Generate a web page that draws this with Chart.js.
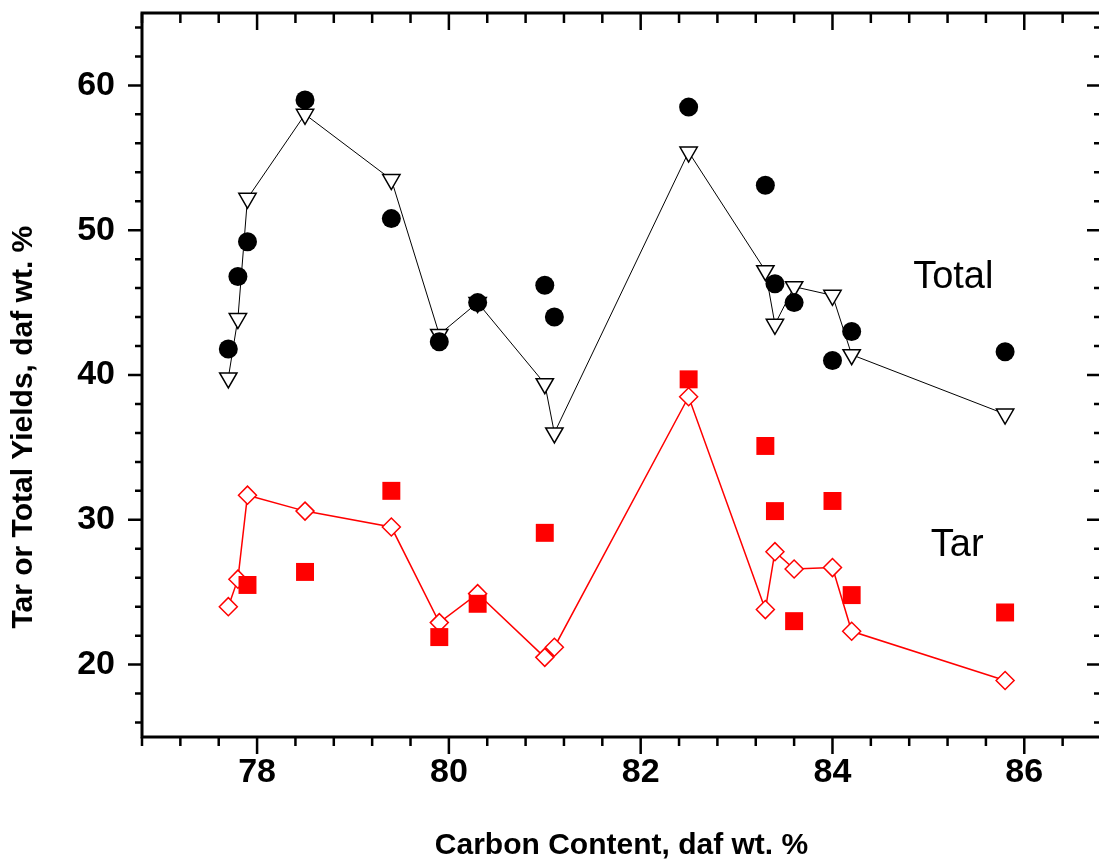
<!DOCTYPE html>
<html>
<head>
<meta charset="utf-8">
<script src="https://cdn.jsdelivr.net/npm/chart.js@4.4.1/dist/chart.umd.min.js"></script>
<style>
  html, body { margin: 0; padding: 0; background: #fff; overflow: hidden; }
  canvas { position: absolute; left: 0; top: 0; }
</style>
</head>
<body>
<canvas id="chart" width="1105" height="861"></canvas>
<script>
// carbon content (daf wt. %) of each coal
const carbon = [77.7, 77.8, 77.9, 78.5, 79.4, 79.9, 80.3, 81.0, 81.1, 82.5, 83.3, 83.4, 83.6, 84.0, 84.2, 85.8];
// measured yields
const totalMeasured = [41.8, 46.8, 49.2, 59.0, 50.8, 42.3, 45.0, 46.2, 44.0, 58.5, 53.1, 46.3, 45.0, 41.0, 43.0, 41.6];
const tarMeasured = [null, null, 25.5, 26.4, 32.0, 21.9, 24.2, 29.1, null, 39.7, 35.1, 30.6, 23.0, 31.3, 24.8, 23.6];
// predicted yields
const totalPredicted = [39.8, 43.9, 52.2, 58.0, 53.5, 42.8, 45.0, 39.4, 36.0, 55.4, 47.2, 43.5, 46.1, 45.5, 41.4, 37.3];
const tarPredicted = [24.0, 25.9, 31.7, 30.6, 29.5, 22.9, 24.9, 20.5, 21.2, 38.5, 23.8, 27.8, 26.6, 26.7, 22.3, 18.9];

const xTicks = [78, 80, 82, 84, 86];
const yTicks = [20, 30, 40, 50, 60];

const FONT = "'Liberation Sans', Arial, sans-serif";

function pairs(ys) {
    return carbon.map((c, i) => ({ x: c, y: ys[i] })).filter(p => p.y !== null);
}

function noPadding(s) {
    s.paddingTop = 0; s.paddingBottom = 0; s.paddingLeft = 0; s.paddingRight = 0;
}

// frame, tick marks, y title and the two curve labels
const framePlugin = {
    id: 'frame',
    afterDraw(chart) {
        const { ctx, chartArea: a, scales: { x, y } } = chart;
        ctx.save();
        ctx.strokeStyle = '#000';
        ctx.lineWidth = 2.5;
        ctx.beginPath();
        for (let i = 0; i <= 25; i++) {
            const v = x.min + i * 0.4;
            const px = x.getPixelForValue(v);
            const major = Math.abs(v - Math.round(v / 2) * 2) < 1e-6;
            ctx.moveTo(px, a.bottom); ctx.lineTo(px, a.bottom + (major ? 17 : 9));
            ctx.moveTo(px, a.top); ctx.lineTo(px, a.top + (major ? 17 : 10));
        }
        for (let v = 16; v <= 64; v += 2) {
            const py = y.getPixelForValue(v);
            const major = v % 10 === 0;
            ctx.moveTo(a.left, py); ctx.lineTo(a.left - (major ? 14 : 7), py);
            ctx.moveTo(a.right, py); ctx.lineTo(a.right - (major ? 14 : 7), py);
        }
        ctx.stroke();
        ctx.lineWidth = 3;
        ctx.strokeRect(a.left, a.top, a.right - a.left, a.bottom - a.top);

        ctx.fillStyle = '#000';
        ctx.textAlign = 'center';
        ctx.textBaseline = 'middle';
        ctx.font = '38px ' + FONT;
        ctx.fillText('Total', x.getPixelForValue(85.26), y.getPixelForValue(46.7));
        ctx.fillText('Tar', x.getPixelForValue(85.3), y.getPixelForValue(28.2));

        ctx.translate(24, y.getPixelForValue(36.4));
        ctx.rotate(-Math.PI / 2);
        ctx.font = 'bold 30px ' + FONT;
        ctx.fillText('Tar or Total Yields, daf wt. %', 0, 0);
        ctx.restore();
    }
};

new Chart(document.getElementById('chart'), {
    type: 'scatter',
    data: {
        datasets: [{
            label: 'Total (measured)',
            data: pairs(totalMeasured),
            pointStyle: 'circle',
            pointRadius: 9.5,
            pointBorderWidth: 0,
            backgroundColor: '#000',
            borderColor: '#000'
        }, {
            label: 'Tar (measured)',
            data: pairs(tarMeasured),
            pointStyle: 'rect',
            pointRadius: 12.7,
            pointBorderWidth: 0,
            backgroundColor: '#ff0000',
            borderColor: '#ff0000'
        }, {
            label: 'Total (predicted)',
            data: pairs(totalPredicted),
            showLine: true,
            borderColor: '#000',
            borderWidth: 1,
            pointStyle: 'triangle',
            pointRotation: 180,
            pointRadius: 10,
            pointBorderWidth: 1.5,
            pointBorderColor: '#000',
            pointBackgroundColor: '#fff'
        }, {
            label: 'Tar (predicted)',
            data: pairs(tarPredicted),
            showLine: true,
            borderColor: '#ff0000',
            borderWidth: 1.5,
            pointStyle: 'rectRot',
            pointRadius: 9,
            pointBorderWidth: 1.5,
            pointBorderColor: '#ff0000',
            pointBackgroundColor: '#fff'
        }]
    },
    options: {
        responsive: false,
        animation: false,
        events: [],
        layout: { autoPadding: false, padding: { left: 0, right: 4, top: 13, bottom: 0 } },
        plugins: { legend: { display: false }, tooltip: { enabled: false } },
        scales: {
            x: {
                type: 'linear',
                min: 76.8,
                max: 86.8,
                afterBuildTicks: s => { s.ticks = xTicks.map(v => ({ value: v })); },
                afterFit: s => { s.height = 124; noPadding(s); },
                grid: { display: false, drawTicks: false },
                border: { display: false },
                ticks: { padding: 15, color: '#000', font: { family: FONT, size: 34, weight: 'bold' } },
                title: {
                    display: true,
                    text: 'Carbon Content, daf wt. %',
                    color: '#000',
                    padding: 0,
                    font: { family: FONT, size: 30, weight: 'bold', lineHeight: 1 }
                }
            },
            y: {
                type: 'linear',
                min: 15,
                max: 65,
                afterBuildTicks: s => { s.ticks = yTicks.map(v => ({ value: v })); },
                afterFit: s => { s.width = 142; noPadding(s); },
                grid: { display: false, drawTicks: false },
                border: { display: false },
                ticks: { padding: 27, color: '#000', font: { family: FONT, size: 34, weight: 'bold' } }
            }
        }
    },
    plugins: [framePlugin]
});
</script>
</body>
</html>
